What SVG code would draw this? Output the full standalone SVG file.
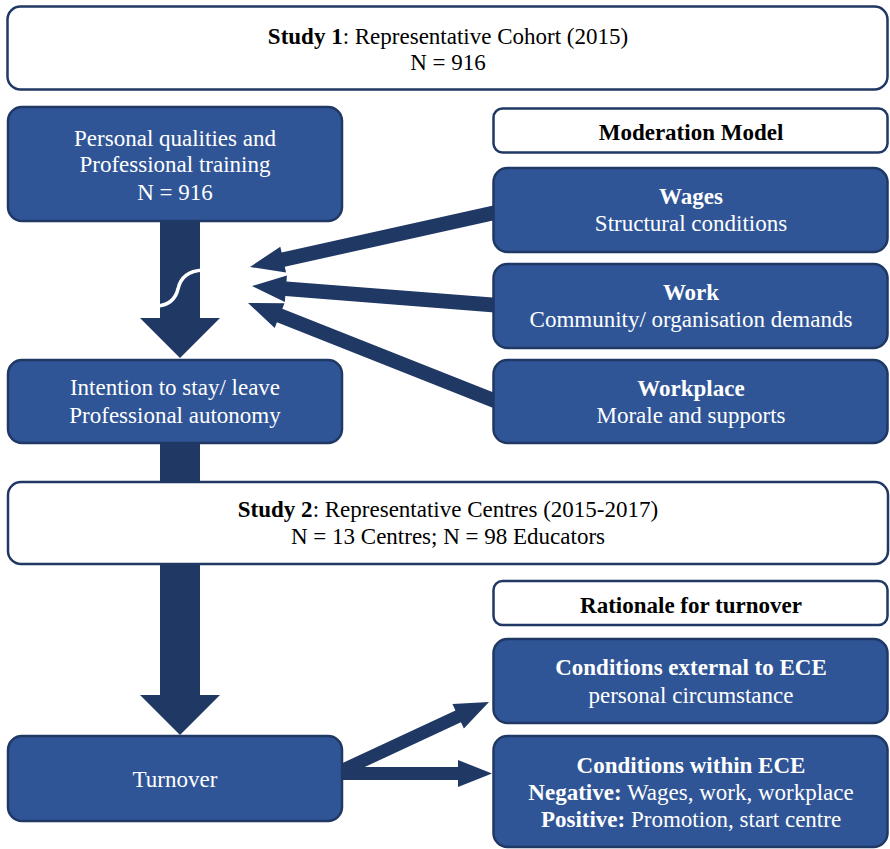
<svg xmlns="http://www.w3.org/2000/svg" width="890" height="849" viewBox="0 0 890 849">
  <style>
    text { font-family: "Liberation Serif", "Times New Roman", serif; font-size: 23px; text-anchor: middle; }
    .white { fill: #ffffff; stroke: #203864; stroke-width: 2.5; }
    .blue { fill: #2F5597; stroke: #203864; stroke-width: 2.5; }
    .lt { fill: #ffffff; }
    .dk { fill: #000000; }
    .b { font-weight: bold; }
    .arrow { fill: #203864; }
  </style>

  <rect width="890" height="849" fill="#ffffff"/>

  <!-- connectors -->
  <g id="connectors">
    <!-- main vertical flow -->
    <polygon class="arrow" points="160,221 200,221 200,318 220,318 180,358 140,318 160,318"/>
    <path d="M157,306 C171,305 176,297 178,289 C180,279 187,271 203,270" fill="none" stroke="#ffffff" stroke-width="3.5"/>
    <rect class="arrow" x="160" y="440" width="40" height="44"/>
    <polygon class="arrow" points="160,562 200,562 200,695 220,695 180,735 140,695 160,695"/>

    <!-- moderators into the main flow -->
    <polygon class="arrow" transform="translate(250,267) rotate(167.47)" points="-252,-7.3 -34,-7.3 -34,-13.3 0,0 -34,13.3 -34,7.3 -252,7.3"/>
    <polygon class="arrow" transform="translate(252,286) rotate(184.5)" points="-244,-7.3 -34,-7.3 -34,-13.3 0,0 -34,13.3 -34,7.3 -244,7.3"/>
    <polygon class="arrow" transform="translate(248,303) rotate(201.6)" points="-266,-7.3 -34,-7.3 -34,-13.3 0,0 -34,13.3 -34,7.3 -266,7.3"/>

    <!-- turnover rationale -->
    <polygon class="arrow" transform="translate(489,702) rotate(-24.97)" points="-165,-6.5 -34,-6.5 -34,-13.5 0,0 -34,13.5 -34,6.5 -165,6.5"/>
    <polygon class="arrow" points="338,767 458,767 458,760 492,773.5 458,787 458,780 338,780"/>
  </g>

  <g id="study1">
    <rect class="white" x="7.5" y="6.5" width="880" height="83" rx="13"/>
    <text x="448" y="44" class="dk"><tspan class="b">Study 1</tspan>: Representative Cohort (2015)</text>
    <text x="448" y="70" class="dk">N = 916</text>
  </g>

  <g id="personal">
    <rect class="blue" x="8" y="107" width="334" height="114" rx="14"/>
    <text x="175" y="146" class="lt">Personal qualities and</text>
    <text x="175" y="172" class="lt">Professional training</text>
    <text x="175" y="200" class="lt">N = 916</text>
  </g>

  <g id="moderation">
    <rect class="white" x="493.5" y="108.5" width="394" height="44" rx="9"/>
    <text x="691" y="140" class="dk b">Moderation Model</text>
  </g>

  <g id="wages">
    <rect class="blue" x="493.5" y="168" width="394" height="84" rx="14"/>
    <text x="691" y="204" class="lt b">Wages</text>
    <text x="691" y="231" class="lt">Structural conditions</text>
  </g>

  <g id="work">
    <rect class="blue" x="493.5" y="264" width="394" height="84" rx="14"/>
    <text x="691" y="300" class="lt b">Work</text>
    <text x="691" y="327" class="lt">Community/ organisation demands</text>
  </g>

  <g id="workplace">
    <rect class="blue" x="493.5" y="360" width="394" height="83" rx="14"/>
    <text x="691" y="396" class="lt b">Workplace</text>
    <text x="691" y="423" class="lt">Morale and supports</text>
  </g>

  <g id="intention">
    <rect class="blue" x="8" y="360" width="334" height="83" rx="14"/>
    <text x="175" y="395" class="lt">Intention to stay/ leave</text>
    <text x="175" y="423" class="lt">Professional autonomy</text>
  </g>

  <g id="study2">
    <rect class="white" x="8" y="482" width="880" height="82" rx="13"/>
    <text x="448" y="517" class="dk"><tspan class="b">Study 2</tspan>: Representative Centres (2015-2017)</text>
    <text x="448" y="544" class="dk">N = 13 Centres; N = 98 Educators</text>
  </g>

  <g id="rationale">
    <rect class="white" x="493.5" y="581" width="394" height="44" rx="9"/>
    <text x="691" y="613" class="dk b">Rationale for turnover</text>
  </g>

  <g id="external">
    <rect class="blue" x="493.5" y="639" width="394" height="84" rx="14"/>
    <text x="691" y="675" class="lt b">Conditions external to ECE</text>
    <text x="691" y="703" class="lt">personal circumstance</text>
  </g>

  <g id="within">
    <rect class="blue" x="493.5" y="736" width="394" height="111" rx="14"/>
    <text x="691" y="773" class="lt b">Conditions within ECE</text>
    <text x="691" y="800" class="lt"><tspan class="b">Negative:</tspan> Wages, work, workplace</text>
    <text x="691" y="827" class="lt"><tspan class="b">Positive:</tspan> Promotion, start centre</text>
  </g>

  <g id="turnover">
    <rect class="blue" x="8" y="736" width="334" height="85" rx="14"/>
    <text x="175" y="787" class="lt">Turnover</text>
  </g>
</svg>
